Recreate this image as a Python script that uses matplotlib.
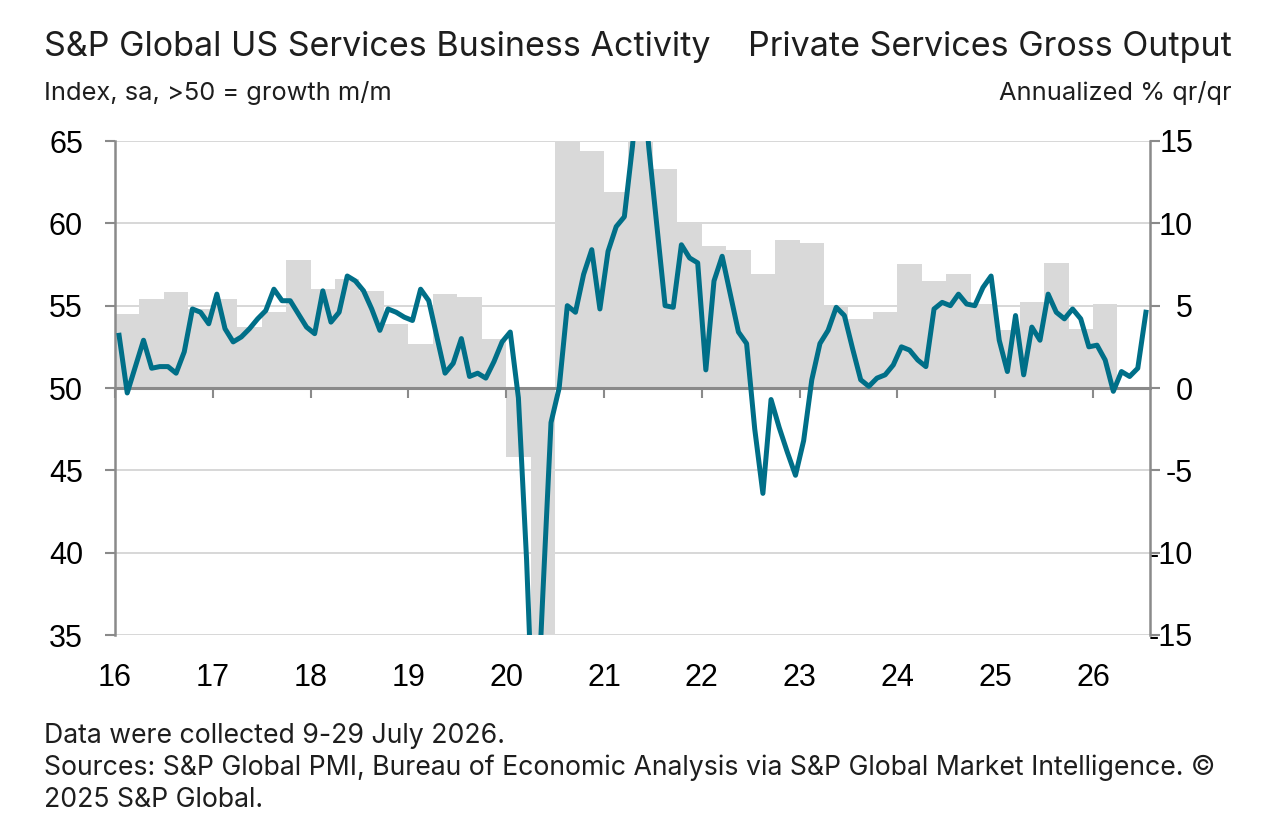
import numpy as np
import matplotlib
matplotlib.use("Agg")
import matplotlib.pyplot as plt

# monthly PMI, Jan 2016 - Jul 2026 (left axis)
pmi_2016 = [53.2, 49.7, 51.3, 52.9, 51.2, 51.3, 51.3, 50.9, 52.2, 54.8, 54.6, 53.9]
pmi_2017 = [55.7, 53.6, 52.8, 53.1, 53.6, 54.2, 54.7, 56.0, 55.3, 55.3, 54.5, 53.7]
pmi_2018 = [53.3, 55.9, 54.0, 54.6, 56.8, 56.5, 55.9, 54.8, 53.5, 54.8, 54.6, 54.3]
pmi_2019 = [54.1, 56.0, 55.3, 53.1, 50.9, 51.5, 53.0, 50.7, 50.9, 50.6, 51.6, 52.8]
pmi_2020 = [53.4, 49.4, 39.6, 26.7, 37.5, 47.9, 50.0, 55.0, 54.6, 56.9, 58.4, 54.8]
pmi_2021 = [58.3, 59.8, 60.4, 64.7, 70.4, 64.6, 59.8, 55.0, 54.9, 58.7, 57.9, 57.6]
pmi_2022 = [51.1, 56.5, 58.0, 55.7, 53.4, 52.7, 47.5, 43.6, 49.3, 47.6, 46.1, 44.7]
pmi_2023 = [46.8, 50.5, 52.7, 53.5, 54.9, 54.4, 52.4, 50.5, 50.1, 50.6, 50.8, 51.4]
pmi_2024 = [52.5, 52.3, 51.7, 51.3, 54.8, 55.2, 55.0, 55.7, 55.1, 55.0, 56.1, 56.8]
pmi_2025 = [52.9, 51.0, 54.4, 50.8, 53.7, 52.9, 55.7, 54.6, 54.2, 54.8, 54.2, 52.5]
pmi_2026 = [52.6, 51.7, 49.8, 51.0, 50.7, 51.2, 54.6]

# quarterly private services gross output, annualized % q/q (right axis), 2016Q1 - 2026Q1
gross_output = [4.5, 5.4, 5.8, 4.8,
                5.4, 3.7, 4.6, 7.8,
                6.0, 6.6, 5.9, 3.9,
                2.7, 5.7, 5.5, 3.0,
                -4.2, -31.0, 35.0, 14.4,
                11.9, 18.0, 13.3, 10.0,
                8.6, 8.4, 6.9, 9.0,
                8.8, 4.9, 4.2, 4.6,
                7.5, 6.5, 6.9, 5.1,
                3.5, 5.2, 7.6, 3.6,
                5.1]

years = list(range(2016, 2027))
year_labels = [str(y)[2:] for y in years]
left_ticks = [35, 40, 45, 50, 55, 60, 65]
right_ticks = [-15, -10, -5, 0, 5, 10, 15]

pmi = (pmi_2016 + pmi_2017 + pmi_2018 + pmi_2019 + pmi_2020 + pmi_2021
       + pmi_2022 + pmi_2023 + pmi_2024 + pmi_2025 + pmi_2026)
month_x = 2016 + (np.arange(len(pmi)) + 0.5) / 12
quarter_x = 2016 + np.arange(len(gross_output)) / 4

line_col = "#006f88"
bar_col = "#d9d9d9"
axis_col = "#8a8a8a"
grid_col = "#d4d4d4"
tick_font = "Liberation Sans"
text_font = "Inter"

W, H = 1264, 830
fig = plt.figure(figsize=(W / 100, H / 100), dpi=100)
ax = fig.add_axes([115 / W, 1 - 635 / H, (1150 - 115) / W, (635 - 141) / H])
ax2 = ax.twinx()

# bars on the right axis
ax2.bar(quarter_x, gross_output, width=0.25, align="edge", color=bar_col, zorder=2)
ax2.set_ylim(-15, 15)
ax2.set_yticks(right_ticks)
ax2.set_yticklabels([str(t) for t in right_ticks], fontsize=22, family=tick_font)
for lbl in ax2.get_yticklabels():
    lbl.set_horizontalalignment("right")
ax2.tick_params(axis="y", direction="out", length=7, width=1.5, color=axis_col, pad=24)
ax2.grid(axis="y", color=grid_col, linewidth=1.3)
ax2.set_axisbelow(True)
for s in ["top", "left", "bottom"]:
    ax2.spines[s].set_visible(False)
ax2.spines["right"].set_color(axis_col)
ax2.spines["right"].set_linewidth(1.8)

# line on the left axis, above the bars
ax.set_zorder(ax2.get_zorder() + 1)
ax.patch.set_visible(False)
ax.plot(month_x, pmi, color=line_col, linewidth=3.6, zorder=3)
ax.set_ylim(35, 65)
ax.set_xlim(2016, 2016 + 127 / 12)
ax.set_yticks(left_ticks)
ax.set_yticklabels([str(t) for t in left_ticks], fontsize=22, family=tick_font)
ax.tick_params(axis="y", direction="out", length=7, width=1.5, color=axis_col, pad=16)

ax.spines["top"].set_visible(False)
ax.spines["right"].set_visible(False)
ax.spines["left"].set_color(axis_col)
ax.spines["left"].set_linewidth(1.8)
ax.spines["bottom"].set_position(("data", 50))
ax.spines["bottom"].set_color(axis_col)
ax.spines["bottom"].set_linewidth(2.2)
ax.set_xticks(years)
ax.tick_params(axis="x", direction="out", length=7, width=1.5, color=axis_col, labelbottom=False)

# year labels along the bottom of the plot
sec = ax.secondary_xaxis("bottom")
sec.set_xticks(years)
sec.set_xticklabels(year_labels, fontsize=22, family=tick_font)
sec.tick_params(length=0, pad=20)
sec.spines["bottom"].set_visible(False)

# titles
fig.text(44 / W, 1 - 56 / H, "S&P Global US Services Business Activity",
         family=text_font, fontsize=24.5, color="#1e1e1e", ha="left", va="baseline")
fig.text(1232 / W, 1 - 56 / H, "Private Services Gross Output",
         family=text_font, fontsize=24.5, color="#1e1e1e", ha="right", va="baseline")
fig.text(44 / W, 1 - 100 / H, "Index, sa, >50 = growth m/m",
         family=text_font, fontsize=18.3, color="#1e1e1e", ha="left", va="baseline")
fig.text(1232 / W, 1 - 100 / H, "Annualized % qr/qr",
         family=text_font, fontsize=18.3, color="#1e1e1e", ha="right", va="baseline")

# footnote
notes = ["Data were collected 9-29 July 2026.",
         "Sources: S&P Global PMI, Bureau of Economic Analysis via S&P Global Market Intelligence. \u00a9",
         "2025 S&P Global."]
for i, line in enumerate(notes):
    fig.text(44 / W, 1 - (743 + 32 * i) / H, line, family=text_font, fontsize=19.2,
             color="#1e1e1e", ha="left", va="baseline")

fig.savefig("out.png", dpi=100)
